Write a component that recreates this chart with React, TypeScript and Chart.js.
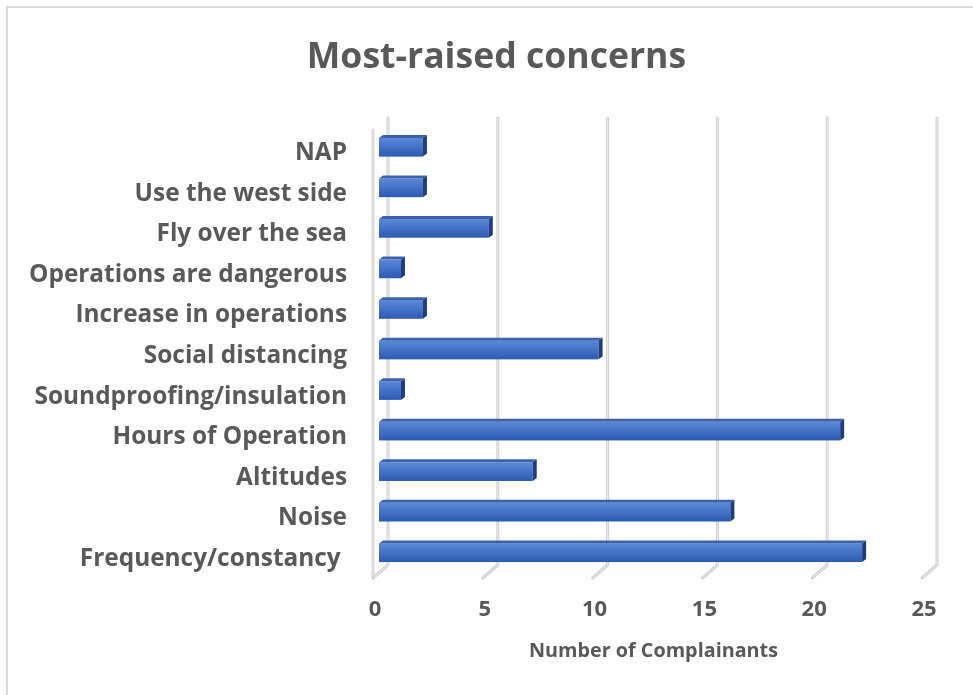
import React, { useEffect, useRef } from "react";
import { Chart, registerables } from "chart.js";

Chart.register(...registerables);

const categories = [
  "NAP",
  "Use the west side",
  "Fly over the sea",
  "Operations are dangerous",
  "Increase in operations",
  "Social distancing",
  "Soundproofing/insulation",
  "Hours of Operation",
  "Altitudes",
  "Noise",
  "Frequency/constancy ",
];
const complainants = [2, 2, 5, 1, 2, 10, 1, 21, 7, 16, 22];
const xMin = 0;
const xMax = 25;
const xStep = 5;
const chartTitle = "Most-raised concerns";
const xAxisTitle = "Number of Complainants";

const FONT = "'Open Sans', Lato, sans-serif";
const TEXT = "#595959";

const threeD = {
  id: "threeD",
  beforeDraw(chart: any) {
    const ctx = chart.ctx;
    ctx.save();
    ctx.fillStyle = "#ffffff";
    ctx.fillRect(0, 0, chart.width, chart.height);
    ctx.strokeStyle = "#d9d9d9";
    ctx.lineWidth = 2;
    ctx.beginPath();
    ctx.moveTo(7, chart.height);
    ctx.lineTo(7, 7);
    ctx.lineTo(chart.width, 7);
    ctx.stroke();
    ctx.restore();
  },
  beforeDatasetsDraw(chart: any) {
    const { ctx, chartArea: a } = chart;
    const xs = chart.scales.x;
    ctx.save();
    ctx.lineCap = "round";
    ctx.lineJoin = "round";
    const drawLine = (pts: number[][]) => {
      const path = () => {
        ctx.beginPath();
        ctx.moveTo(pts[0][0], pts[0][1]);
        for (let i = 1; i < pts.length; i++) ctx.lineTo(pts[i][0], pts[i][1]);
      };
      ctx.strokeStyle = "#cfcfcf";
      ctx.lineWidth = 3;
      path();
      ctx.stroke();
      ctx.strokeStyle = "#eeeeee";
      ctx.lineWidth = 1;
      path();
      ctx.stroke();
    };
    drawLine([
      [a.left - 6, a.top + 3],
      [a.left - 6, a.bottom + 5],
    ]);
    xs.ticks.forEach((t: any) => {
      const px = xs.getPixelForValue(t.value);
      drawLine([
        [px + 9, a.top - 9],
        [px + 9, a.bottom - 8],
        [px - 6, a.bottom + 5],
      ]);
    });
    ctx.restore();
  },
  afterDatasetsDraw(chart: any) {
    const { ctx } = chart;
    const meta = chart.getDatasetMeta(0);
    const d = 4;
    const dy = 3;
    ctx.save();
    meta.data.forEach((bar: any) => {
      const { x, y, base, height } = bar.getProps(["x", "y", "base", "height"], true);
      const top = y - height / 2;
      const bottom = y + height / 2;
      const g = ctx.createLinearGradient(0, top, 0, bottom);
      g.addColorStop(0, "#5b88d6");
      g.addColorStop(0.45, "#4773c8");
      g.addColorStop(1, "#2c5ab2");
      ctx.fillStyle = g;
      ctx.fillRect(base, top, x - base, height);
      ctx.fillStyle = "#3b62ac";
      ctx.beginPath();
      ctx.moveTo(base, top);
      ctx.lineTo(base + d, top - dy);
      ctx.lineTo(x + d, top - dy);
      ctx.lineTo(x, top);
      ctx.closePath();
      ctx.fill();
      ctx.fillStyle = "#1f3d7c";
      ctx.beginPath();
      ctx.moveTo(x, top);
      ctx.lineTo(x + d, top - dy);
      ctx.lineTo(x + d, bottom - dy);
      ctx.lineTo(x, bottom);
      ctx.closePath();
      ctx.fill();
    });
    ctx.restore();
  },
};

export default function App() {
  const ref = useRef<HTMLCanvasElement | null>(null);
  useEffect(() => {
    if (!ref.current) return;
    const chart = new Chart(ref.current, {
      type: "bar",
      data: {
        labels: categories,
        datasets: [
          {
            label: xAxisTitle,
            data: complainants,
            backgroundColor: "rgba(0,0,0,0)",
            borderWidth: 0,
            categoryPercentage: 1,
            barPercentage: 0.46,
          },
        ],
      },
      options: {
        indexAxis: "y",
        responsive: false,
        animation: false,
        devicePixelRatio: 1,
        layout: { padding: { top: 0, right: 0, bottom: 0, left: 20 } },
        plugins: {
          legend: { display: false },
          tooltip: { enabled: false },
          title: {
            display: true,
            text: chartTitle,
            color: TEXT,
            font: { family: FONT, size: 35.6, weight: "bold" },
            padding: { top: 36, bottom: 48.3 },
          },
        },
        scales: {
          x: {
            type: "linear",
            min: xMin,
            max: xMax,
            grid: { display: false, drawTicks: false },
            border: { display: false },
            ticks: {
              stepSize: xStep,
              color: TEXT,
              font: { family: FONT, size: 22, weight: "bold" },
              padding: 24,
              labelOffset: -4,
            },
            title: {
              display: true,
              text: xAxisTitle,
              color: TEXT,
              font: { family: FONT, size: 19.8, weight: "bold" },
              padding: { top: 0, bottom: 32 },
            },
            afterFit(scale: any) {
              scale.height = 122;
              scale.paddingRight = 45;
              scale.paddingLeft = 0;
            },
          },
          y: {
            grid: { display: false, drawTicks: false },
            border: { display: false },
            ticks: {
              color: TEXT,
              font: { family: FONT, size: 24.4, weight: "bold" },
              padding: 32,
              labelOffset: 6,
            },
            afterFit(scale: any) {
              scale.width = 359;
            },
          },
        },
      },
      plugins: [threeD],
    } as any);
    return () => chart.destroy();
  }, []);
  return (
    <div style={{ position: "fixed", left: 0, top: 0, width: 973, height: 695, background: "#fff" }}>
      <canvas ref={ref} width={973} height={695} style={{ display: "block", width: 973, height: 695 }} />
    </div>
  );
}
